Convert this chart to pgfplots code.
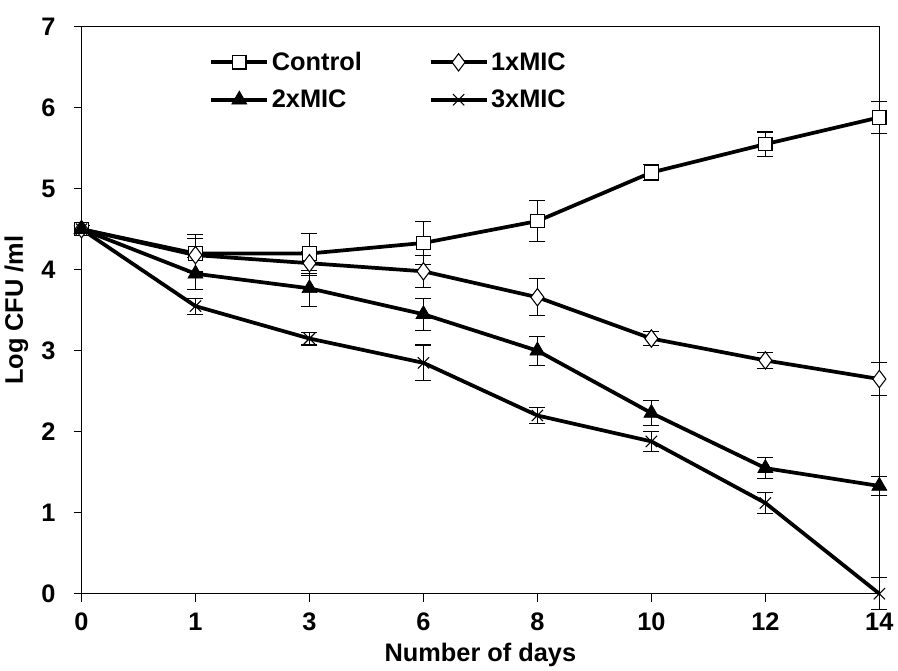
\documentclass[border=0pt]{standalone}
\usepackage{pgfplots}
\pgfplotsset{compat=1.18}
\usepackage{fontspec}
\setmainfont{Liberation Sans}

\begin{document}
\begin{tikzpicture}
\begin{axis}[
    scale only axis,
    width=598pt, height=425pt,
    xmin=0, xmax=7, ymin=0, ymax=7,
    xtick={0,...,7},
    xticklabels={0,1,3,6,8,10,12,14},
    ytick={0,...,7},
    tick align=outside,
    xtick pos=bottom, ytick pos=left,
    major tick length=6pt,
    axis line style={line width=1pt},
    tick style={line width=0.8pt, black},
    ticklabel style={font=\fontsize{19}{22}\selectfont\bfseries},
    yticklabel style={xshift=-10pt},
    xticklabel style={yshift=-5pt},
    label style={font=\fontsize{19}{22}\selectfont\bfseries},
    /pgf/number format/assume math mode=true,
    xlabel={Number of days},
    ylabel={Log CFU /ml},
    ylabel style={yshift=3pt},
    xlabel style={yshift=-2pt},
    clip=false,
    legend columns=2,
    legend style={draw=none, fill=none, at={(0.155,0.965)}, anchor=north west,
        font=\fontsize{19}{22}\selectfont\bfseries,
        /tikz/every even column/.append style={column sep=48pt},
        row sep=9pt},
    legend cell align=left,
    legend image code/.code={
        \draw[mark repeat=2, mark phase=2] plot coordinates {(0pt,0pt) (21pt,0pt) (42pt,0pt)};},
    every axis plot/.append style={black, line width=2.8pt,
        error bars/y dir=both, error bars/y explicit,
        error bars/error bar style={line width=0.8pt, black},
        error bars/error mark options={rotate=90, mark size=6pt, line width=0.8pt, black}},
]
\addplot[mark=square*, mark size=5pt, mark options={fill=white, line width=0.8pt, solid}]
  coordinates {
    (0,4.50) +- (0,0.05)
    (1,4.20) +- (0,0.23)
    (2,4.20) +- (0,0.25)
    (3,4.33) +- (0,0.27)
    (4,4.60) +- (0,0.25)
    (5,5.20) +- (0,0.10)
    (6,5.55) +- (0,0.15)
    (7,5.88) +- (0,0.20)
  };
\addlegendentry{Control}
\addplot[mark=diamond*, mark size=6.5pt, mark options={fill=white, line width=0.8pt, solid}]
  coordinates {
    (0,4.50) +- (0,0.05)
    (1,4.18) +- (0,0.20)
    (2,4.08) +- (0,0.15)
    (3,3.98) +- (0,0.20)
    (4,3.66) +- (0,0.23)
    (5,3.15) +- (0,0.09)
    (6,2.88) +- (0,0.10)
    (7,2.65) +- (0,0.20)
  };
\addlegendentry{1xMIC}
\addplot[mark=triangle*, mark size=6.5pt, mark options={fill=black, line width=0.5pt, solid}]
  coordinates {
    (0,4.50) +- (0,0.05)
    (1,3.95) +- (0,0.20)
    (2,3.77) +- (0,0.22)
    (3,3.45) +- (0,0.20)
    (4,3.00) +- (0,0.18)
    (5,2.23) +- (0,0.15)
    (6,1.55) +- (0,0.13)
    (7,1.33) +- (0,0.12)
  };
\addlegendentry{2xMIC}
\addplot[mark=x, mark size=6pt, mark options={line width=0.8pt, solid}]
  coordinates {
    (0,4.50) +- (0,0.05)
    (1,3.55) +- (0,0.10)
    (2,3.15) +- (0,0.08)
    (3,2.85) +- (0,0.22)
    (4,2.20) +- (0,0.10)
    (5,1.88) +- (0,0.12)
    (6,1.12) +- (0,0.13)
    (7,0.00) +- (0,0.20)
  };
\addlegendentry{3xMIC}
\end{axis}
\path ([yshift=20pt]current axis.north) ([xshift=14pt]current axis.east);
\end{tikzpicture}
\end{document}
